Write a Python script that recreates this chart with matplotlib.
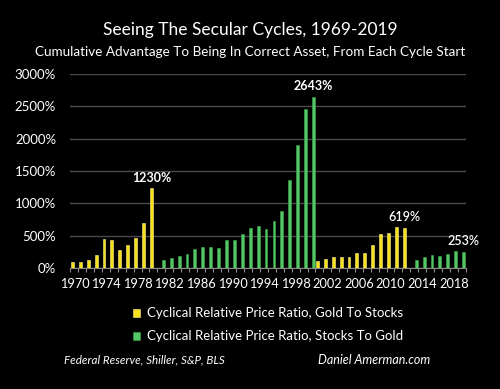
import matplotlib
matplotlib.use("Agg")
import matplotlib.pyplot as plt
import numpy as np

years = list(range(1970, 2020))

# Gold outperforming stocks (yellow), cumulative % from cycle start
gold_to_stocks = {
    1970: 93, 1971: 93, 1972: 118, 1973: 206, 1974: 448, 1975: 438,
    1976: 278, 1977: 350, 1978: 464, 1979: 701, 1980: 1230,
    2001: 108, 2002: 144, 2003: 175, 2004: 170, 2005: 175, 2006: 227,
    2007: 232, 2008: 356, 2009: 521, 2010: 541, 2011: 640, 2012: 619,
}
# Stocks outperforming gold (green)
stocks_to_gold = {
    1981: 129, 1982: 150, 1983: 186, 1984: 211, 1985: 294, 1986: 320,
    1987: 320, 1988: 304, 1989: 428, 1990: 433, 1991: 531, 1992: 619,
    1993: 644, 1994: 603, 1995: 722, 1996: 887, 1997: 1361, 1998: 1907,
    1999: 2464, 2000: 2643,
    2013: 119, 2014: 165, 2015: 201, 2016: 186, 2017: 222, 2018: 263,
    2019: 253,
}
# bars that carry a data label
labelled = [(1980, "gold"), (2000, "stocks"), (2012, "gold"), (2019, "stocks")]

yellow = "#F7E01C"
green = "#52C763"
plt.rcParams["font.family"] = ["Lato", "DejaVu Sans"]

fig = plt.figure(figsize=(5.0, 3.89), dpi=100, facecolor="black")
ax = fig.add_axes([0.14, 0.311, 0.792, 0.499], facecolor="black")

x = np.arange(len(years))
g_vals = np.array([gold_to_stocks.get(y, 0) for y in years])
s_vals = np.array([stocks_to_gold.get(y, 0) for y in years])
w = 0.36
off = 0.25
ax.bar(x - off, g_vals, width=w, color=yellow, edgecolor="#FFF38A",
       linewidth=0.4, zorder=3, label="Cyclical Relative Price Ratio, Gold To Stocks")
ax.bar(x + off, s_vals, width=w, color=green, edgecolor="#3FA84F",
       linewidth=0.4, zorder=3, label="Cyclical Relative Price Ratio, Stocks To Gold")

for yr, series in labelled:
    i = years.index(yr)
    if series == "gold":
        xx, v = i - off, gold_to_stocks[yr]
    else:
        xx, v = i + off, stocks_to_gold[yr]
    bold = v > 1000
    ax.annotate(f"{v}%", (xx, v), xytext=(0, 3.5), textcoords="offset points",
                ha="center", va="bottom", color="white", fontsize=9,
                fontweight="bold" if bold else "semibold")

ax.set_ylim(0, 3000)
ax.set_xlim(-0.55, len(years) - 0.45)
ax.set_yticks(np.arange(0, 3001, 500))
ax.set_yticklabels([f"{v}%" for v in range(0, 3001, 500)])
ax.yaxis.grid(True, color="#4a4a4a", linewidth=1.0, zorder=0)
ax.tick_params(axis="y", length=0, colors="white", labelsize=9.5, pad=10)

ax.set_xticks(x[::4])
ax.set_xticklabels([str(y) for y in years[::4]])
ax.set_xticks(np.arange(len(years) + 1) - 0.5, minor=True)
ax.tick_params(axis="x", which="major", length=0, colors="white", labelsize=9.2, pad=7)
ax.tick_params(axis="x", which="minor", length=3, color="#888888", width=0.8)

for s in ["top", "right", "left"]:
    ax.spines[s].set_visible(False)
ax.spines["bottom"].set_color("#888888")
ax.spines["bottom"].set_linewidth(0.8)

fig.text(0.5, 1 - 30 / 389, "Seeing The Secular Cycles, 1969-2019", ha="center",
         va="center", color="white", fontsize=12.5)
fig.text(0.5, 1 - 52 / 389,
         "Cumulative Advantage To Being In Correct Asset, From Each Cycle Start",
         ha="center", va="center", color="white", fontsize=9.7)

leg = fig.legend(loc="upper left", bbox_to_anchor=(0.255, 1 - 302 / 389), frameon=False,
                 fontsize=9.5, labelcolor="white", handlelength=0.55, handleheight=0.55,
                 handletextpad=0.5, labelspacing=0.85, borderaxespad=0)

fig.text(64 / 500, 1 - 360 / 389, "Federal Reserve, Shiller, S&P, BLS", ha="left",
         va="center", color="white", fontsize=8.4, style="italic")
fig.text(318 / 500, 1 - 360 / 389, "Daniel Amerman.com", ha="left",
         va="center", color="white", fontsize=9, style="italic")

fig.savefig("out.png", dpi=100, facecolor="black")
